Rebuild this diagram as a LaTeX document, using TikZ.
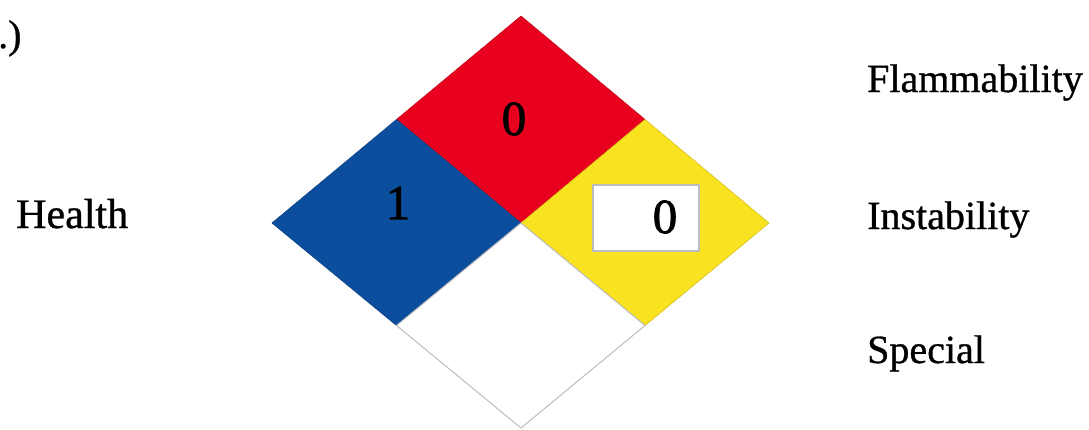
\documentclass[tikz,border=0pt]{standalone}
\usepackage{fontspec}
\setmainfont{Liberation Serif}
\newfontfamily\heavyfont[FakeBold=0.8]{Liberation Serif}
\newfontfamily\digitfont[FakeBold=1.6]{Liberation Serif}
\definecolor{nfpared}{HTML}{E8001E}
\definecolor{nfpablue}{HTML}{0C4E9E}
\definecolor{nfpayellow}{HTML}{F9E21F}
\definecolor{edgegray}{HTML}{BDBDBD}
\begin{document}
\begin{tikzpicture}[x=1pt,y=-1pt,
  label/.style={inner sep=0pt,anchor=base west,font=\heavyfont\fontsize{40}{48}\selectfont},
  digit/.style={inner sep=0pt,font=\digitfont\fontsize{49}{56}\selectfont},
  quad/.style={draw=#1!85!black,line width=0.6pt,fill=#1}]
\useasboundingbox (0,0) rectangle (1089,429);
\coordinate (T) at (521,16);
\coordinate (L) at (272,223);
\coordinate (R) at (769,223);
\coordinate (B) at (521,428);
\coordinate (C) at (521,223);
\coordinate (TL) at (396.5,119.5);
\coordinate (TR) at (645,119.5);
\coordinate (BL) at (396.5,325.5);
\coordinate (BR) at (645,325.5);
\path[quad=nfpared] (T) -- (TR) -- (C) -- (TL) -- cycle;
\path[quad=nfpablue] (TL) -- (C) -- (BL) -- (L) -- cycle;
\path[quad=nfpayellow] (TR) -- (R) -- (BR) -- (C) -- cycle;
\path[fill=white,draw=edgegray,line width=1pt] (C) -- (BR) -- (B) -- (BL) -- cycle;
\node[draw=edgegray,line width=1.5pt,fill=white,minimum width=106pt,minimum height=66pt,inner sep=0pt] (box) at (646,218) {};
\node[digit] (flam) at (514,119) {0};
\node[digit] (health) at (398,203) {1};
\node[digit] (inst) at (665,217) {0};
\node[label] (num) at (-22,48) {1.)};
\node[label,font=\heavyfont\fontsize{42}{50}\selectfont] (lh) at (16,228) {Health};
\node[label] (lf) at (867,92) {Flammability};
\node[label] (li) at (867,229) {Instability};
\node[label] (ls) at (867,363) {Special};
\end{tikzpicture}
\end{document}
